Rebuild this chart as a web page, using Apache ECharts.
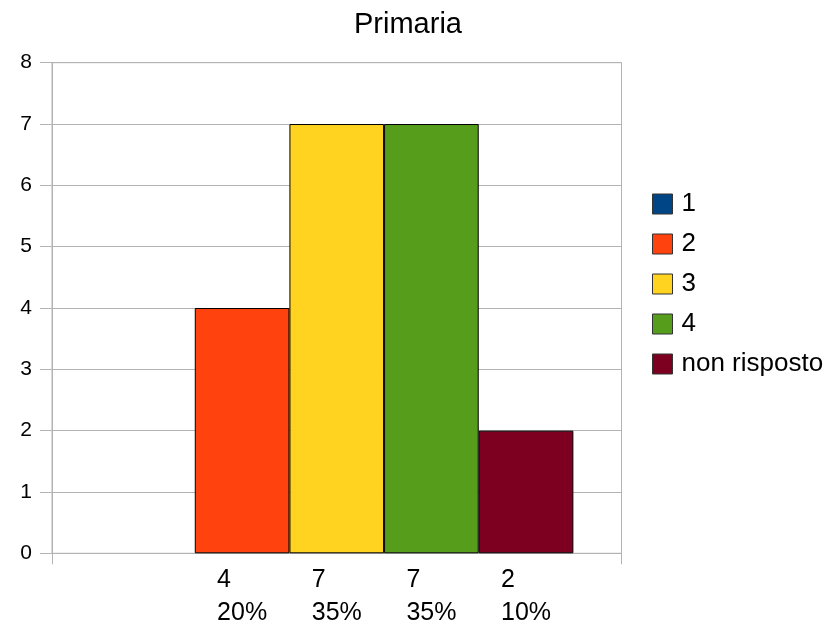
<!DOCTYPE html>
<html>
<head>
<meta charset="utf-8">
<script src="https://cdn.jsdelivr.net/npm/echarts@6/dist/echarts.min.js"></script>
<style>
  html, body { margin: 0; padding: 0; background: #fff; }
  #chart { width: 833px; height: 629px; }
</style>
</head>
<body>
<div id="chart"></div>
<script>
const titleText = 'Primaria';
const categories = [''];
const seriesNames = ['1', '2', '3', '4', 'non risposto'];
const seriesValues = [0, 4, 7, 7, 2];
const percentLabels = ['', '20%', '35%', '35%', '10%'];
const seriesColors = ['#004586', '#ff420e', '#ffd320', '#579d1c', '#7e0021'];
const yTicks = { min: 0, max: 8, interval: 1 };

const FONT = '"Liberation Sans", Arial, sans-serif';
const GRID_COLOR = '#b3b3b3';

const chart = echarts.init(document.getElementById('chart'), null, { renderer: 'canvas' });

const series = seriesNames.map((name, i) => ({
  name: name,
  type: 'bar',
  barGap: '0%',
  barCategoryGap: '16.9%',
  itemStyle: { color: seriesColors[i], borderColor: '#000', borderWidth: 1 },
  data: [{
    value: seriesValues[i],
    itemStyle: { borderWidth: seriesValues[i] ? 1 : 0 }
  }],
  label: {
    show: seriesValues[i] > 0,
    position: 'bottom',
    distance: 10,
    align: 'center',
    formatter: () => '{a|' + seriesValues[i] + '}\n{a|' + percentLabels[i] + '}',
    rich: {
      a: { width: 50, align: 'left', fontSize: 25, lineHeight: 33, color: '#000', fontFamily: FONT }
    }
  },
  emphasis: { disabled: true }
}));

chart.setOption({
  animation: false,
  backgroundColor: '#fff',
  title: {
    text: titleText,
    left: 349,
    top: 5,
    textStyle: { fontSize: 29, fontWeight: 'normal', color: '#000', fontFamily: FONT }
  },
  legend: {
    orient: 'vertical',
    left: 647,
    top: 186,
    itemWidth: 20,
    itemHeight: 20,
    itemGap: 14,
    icon: 'rect',
    itemStyle: { borderColor: '#333', borderWidth: 1 },
    textStyle: { fontSize: 26, color: '#000', fontFamily: FONT, padding: [0, 0, 0, 4] },
    data: seriesNames
  },
  grid: {
    left: 52,
    right: 211.5,
    top: 62.7,
    bottom: 75.7,
    show: true,
    borderColor: GRID_COLOR,
    borderWidth: 1
  },
  xAxis: {
    type: 'category',
    data: categories,
    boundaryGap: true,
    axisLine: { show: true, lineStyle: { color: GRID_COLOR, width: 1 } },
    axisTick: { show: true, length: 11, lineStyle: { color: GRID_COLOR } },
    axisLabel: { show: false },
    splitLine: { show: false }
  },
  yAxis: {
    type: 'value',
    min: yTicks.min,
    max: yTicks.max,
    interval: yTicks.interval,
    axisLine: { show: true, lineStyle: { color: GRID_COLOR, width: 1 } },
    axisTick: { show: true, length: 12, lineStyle: { color: GRID_COLOR } },
    axisLabel: { margin: 20, fontSize: 21, color: '#000', fontFamily: FONT },
    splitLine: { show: true, lineStyle: { color: GRID_COLOR, width: 1 } }
  },
  series: series
});
</script>
</body>
</html>
